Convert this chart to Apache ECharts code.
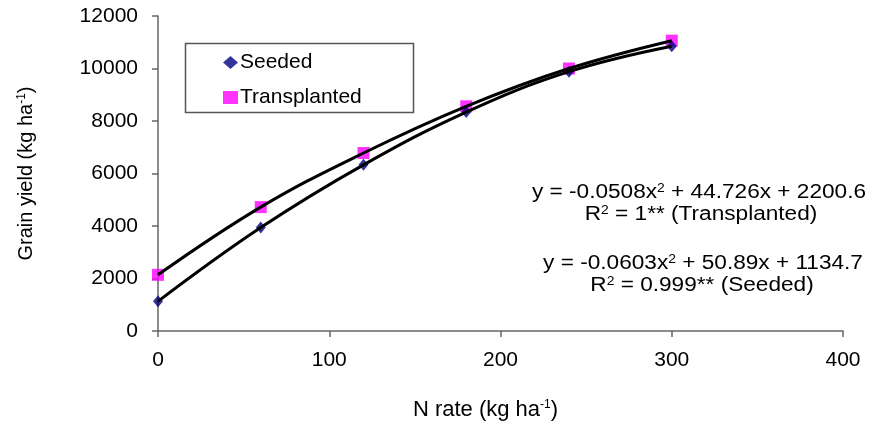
<!DOCTYPE html>
<html><head><meta charset="utf-8">
<script src="https://cdn.jsdelivr.net/npm/echarts@6/dist/echarts.min.js"></script>
<style>html,body{margin:0;padding:0;background:#fff}#c{width:876px;height:427px}</style>
</head><body><div id="c"></div>
<script>
const nRate = [0, 60, 120, 180, 240, 300];
const seeded = [1130, 3940, 6330, 8340, 9880, 10850];
const transplanted = [2140, 4720, 6780, 8560, 10000, 11060];
const eqTransplanted = ['y = -0.0508x{s|2} + 44.726x + 2200.6', 'R{s|2} = 1** (Transplanted)'];
const eqSeeded = ['y = -0.0603x{s|2} + 50.89x + 1134.7', 'R{s|2} = 0.999** (Seeded)'];

const font = 'Liberation Sans, Arial, sans-serif';
const chart = echarts.init(document.getElementById('c'));
const pairs = (xs, ys) => xs.map((x, i) => [x, ys[i]]);
const sup = { s: { fontSize: 12, verticalAlign: 'top', padding: [0, 0, 9, 0], fontFamily: font, color: '#000' } };
const eqText = (txt, x, y) => ({
  type: 'group', x: x, y: y, scaleX: 1.16,
  children: [{ type: 'text', style: { text: txt, align: 'center', verticalAlign: 'middle', fontFamily: font, fontSize: 19.5, fill: '#000', rich: sup } }]
});

chart.setOption({
  animation: false,
  backgroundColor: '#fff',
  grid: { left: 158, right: 33, top: 16, bottom: 96 },
  xAxis: {
    type: 'value', min: 0, max: 400, interval: 100,
    name: 'N rate (kg ha{s|-1})', nameLocation: 'middle', nameGap: 68,
    nameTextStyle: { fontFamily: font, fontSize: 22, color: '#000', rich: sup, padding: [0, 30, 0, 0] },
    axisLine: { lineStyle: { color: '#666', width: 1.5 } },
    axisTick: { show: true, length: 6, lineStyle: { color: '#666', width: 1.5 } },
    axisLabel: { fontFamily: font, fontSize: 21, color: '#000', margin: 19 },
    splitLine: { show: false }
  },
  yAxis: {
    type: 'value', min: 0, max: 12000, interval: 2000,
    name: 'Grain yield (kg ha{s|-1})', nameLocation: 'middle', nameGap: 121, nameRotate: 90,
    nameTextStyle: { fontFamily: font, fontSize: 20, color: '#000', rich: sup },
    axisLine: { show: true, lineStyle: { color: '#666', width: 1.5 } },
    axisTick: { show: true, length: 6, lineStyle: { color: '#666', width: 1.5 } },
    axisLabel: { fontFamily: font, fontSize: 21, color: '#000', margin: 20, formatter: v => String(v) },
    splitLine: { show: false }
  },
  legend: {
    orient: 'vertical', left: 218, top: 47, itemGap: 14,
    itemWidth: 15, itemHeight: 13,
    textStyle: { fontFamily: font, fontSize: 21, color: '#000', padding: [0, 0, 0, -3] },
    data: [
      { name: 'Seeded', icon: 'diamond', itemStyle: { color: '#000080' } },
      { name: 'Transplanted', icon: 'rect', itemStyle: { color: '#ff00ff' } }
    ]
  },
  graphic: [
    { type: 'rect', left: 183, top: 41, shape: { width: 228, height: 69 }, style: { fill: 'none', stroke: '#555', lineWidth: 1.5 }, z: 0 },
    eqText(eqTransplanted[0], 699, 193),
    eqText(eqTransplanted[1], 701, 215),
    eqText(eqSeeded[0], 703, 264),
    eqText(eqSeeded[1], 702, 286)
  ],
  series: [
    { name: 'Seeded trend', type: 'line', data: pairs(nRate, seeded), smooth: 0.4, showSymbol: false, lineStyle: { color: '#000', width: 3 }, z: 3, silent: true },
    { name: 'Transplanted trend', type: 'line', data: pairs(nRate, transplanted), smooth: 0.4, showSymbol: false, lineStyle: { color: '#000', width: 3 }, z: 3, silent: true },
    { name: 'Transplanted', type: 'scatter', data: pairs(nRate, transplanted), symbol: 'rect', symbolSize: 12, itemStyle: { color: '#ff00ff' }, z: 2 },
    { name: 'Seeded', type: 'scatter', data: pairs(nRate, seeded), symbol: 'diamond', symbolSize: [10, 12], itemStyle: { color: '#000080' }, z: 2 }
  ]
});
</script></body></html>
